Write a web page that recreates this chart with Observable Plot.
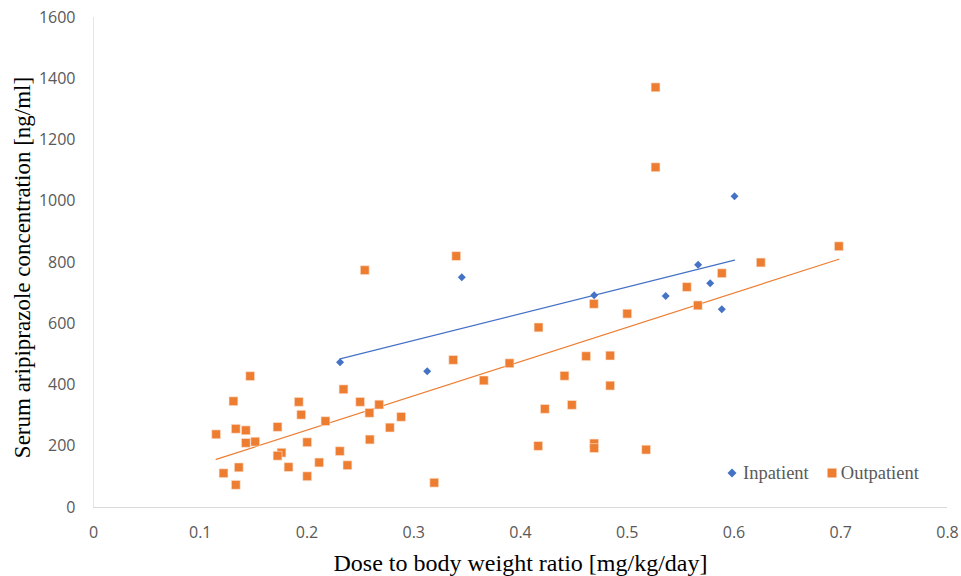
<!DOCTYPE html>
<html>
<head>
<meta charset="utf-8">
<script src="https://cdn.jsdelivr.net/npm/d3@7"></script>
<script src="https://cdn.jsdelivr.net/npm/@observablehq/plot@0.6"></script>
<style>
  body { margin: 0; background: #fff; }
  #wrap { position: relative; width: 961px; height: 576px; }
  .legend { position: absolute; top: 463px; left: 727px; height: 20px; line-height: 20px; font-family: "Liberation Serif", serif; font-size: 18.5px; color: #595959; display: flex; align-items: center; white-space: nowrap; }
  .legend svg { display: block; }
</style>
</head>
<body>
<div id="wrap"></div>
<script>
const inpatientX = [0.231, 0.3126, 0.345, 0.469, 0.536, 0.5664, 0.5777, 0.5886, 0.6005];
const inpatientY = [474, 445, 752, 693, 691, 793, 732, 647, 1016];

const outpatientX = [
  0.1468, 0.1311, 0.1923, 0.2342, 0.2498, 0.2676, 0.2585, 0.1946, 0.2882, 0.2173,
  0.2776, 0.1333, 0.1427, 0.1724, 0.1149, 0.1427, 0.1515, 0.2002, 0.2588, 0.1761,
  0.1724, 0.2307, 0.1361, 0.1218, 0.1827, 0.2114, 0.2379, 0.1333, 0.2002, 0.3192,
  0.2541, 0.3398, 0.3370, 0.3656, 0.3897, 0.4169, 0.4615, 0.4840, 0.4840, 0.4412,
  0.4228, 0.4481, 0.4166, 0.469, 0.469, 0.5177, 0.4687, 0.5000, 0.5558, 0.5661,
  0.5886, 0.6251, 0.6982, 0.5265, 0.5265
];
const outpatientY = [
  429, 347, 345, 386, 345, 336, 309, 303, 296, 282,
  261, 257, 252, 263, 239, 211, 215, 213, 222, 179,
  169, 184, 131, 112, 132, 147, 138, 74, 102, 81,
  775, 821, 482, 415, 471, 588, 494, 496, 398, 430,
  322, 335, 201, 209, 194, 189, 665, 633, 720, 660,
  765, 800, 853, 1111, 1372
];

const xTicks = [0, 0.1, 0.2, 0.3, 0.4, 0.5, 0.6, 0.7, 0.8];
const yTicks = [0, 200, 400, 600, 800, 1000, 1200, 1400, 1600];

const xTitle = "Dose to body weight ratio [mg/kg/day]";
const yTitle = "Serum aripiprazole concentration [ng/ml]";
const seriesNames = ["Inpatient", "Outpatient"];
const blue = "#4472C4", orange = "#ED7D31";

const inpatient = inpatientX.map((x, i) => ({x, y: inpatientY[i]}));
const outpatient = outpatientX.map((x, i) => ({x, y: outpatientY[i]}));

const tickFont = "Open Sans, sans-serif";
const titleFont = "Liberation Serif, serif";

const chart = Plot.plot({
  width: 961,
  height: 576,
  marginLeft: 93,
  marginRight: 14,
  marginTop: 17,
  marginBottom: 69,
  style: {background: "#fff", overflow: "visible"},
  x: {domain: [0, 0.8], ticks: xTicks},
  y: {domain: [0, 1600], ticks: yTicks},
  marks: [
    Plot.ruleX([0], {stroke: "#e6e6e6", strokeWidth: 1}),
    Plot.ruleY([0], {stroke: "#d9d9d9", strokeWidth: 1.2}),
    Plot.axisX({ticks: xTicks, tickSize: 0, tickPadding: 19, label: null, fontSize: 16, fontFamily: tickFont, fill: "#595959", tickFormat: d => String(d)}),
    Plot.axisY({ticks: yTicks, tickSize: 0, tickPadding: 18, label: null, fontSize: 16, fontFamily: tickFont, fill: "#595959", tickFormat: d => String(d)}),
    Plot.linearRegressionY(inpatient, {x: "x", y: "y", stroke: blue, strokeWidth: 1.25, ci: 0}),
    Plot.linearRegressionY(outpatient, {x: "x", y: "y", stroke: orange, strokeWidth: 1.25, ci: 0}),
    Plot.dot(outpatient, {x: "x", y: "y", symbol: "square", r: 5, fill: orange, stroke: "#fde9dc", strokeWidth: 0.6}),
    Plot.dot(inpatient, {x: "x", y: "y", symbol: "diamond2", r: 3.6, fill: blue}),
    Plot.text([yTitle], {frameAnchor: "left", rotate: -90, dx: -71, dy: 5, fontSize: 23, fontFamily: titleFont, fill: "#000", textAnchor: "middle"}),
    Plot.text([xTitle], {frameAnchor: "bottom", dy: 56, fontSize: 24, fontFamily: titleFont, fill: "#000", textAnchor: "middle", lineAnchor: "middle"})
  ]
});

const wrap = document.getElementById("wrap");
wrap.appendChild(chart);

const legend = document.createElement("div");
legend.className = "legend";
legend.innerHTML =
  `<svg width="10" height="10" viewBox="-5 -5 10 10" style="margin-right:6px"><path d="M0,-4.5L4.5,0L0,4.5L-4.5,0Z" fill="${blue}"/></svg><span style="margin-right:18px">${seriesNames[0]}</span>` +
  `<svg width="10" height="10" viewBox="-5 -5 10 10" style="margin-right:4px"><rect x="-4.5" y="-4.5" width="9" height="9" fill="${orange}"/></svg><span>${seriesNames[1]}</span>`;
wrap.appendChild(legend);
</script>
</body>
</html>
